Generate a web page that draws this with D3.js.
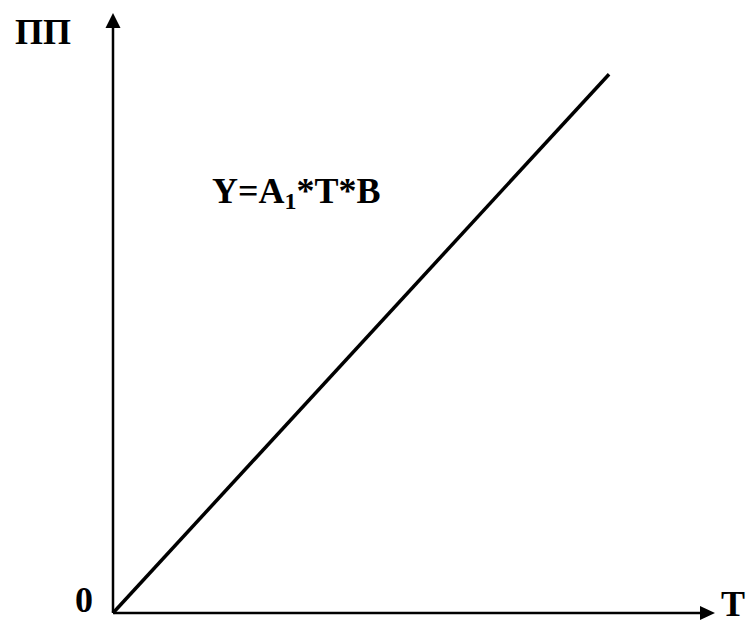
<!DOCTYPE html>
<html><head><meta charset="utf-8">
<script src="https://cdn.jsdelivr.net/npm/d3@7"></script>
<style>html,body{margin:0;padding:0;background:#fff;}</style>
</head><body>
<svg id="c" width="749" height="626"></svg>
<script>
const lineT = [0, 8.24];
const lineY = [0, 8.98];
const axisMax = [10, 10];
const labels = {y: "ПП", x: "T", origin: "0"};

const svg = d3.select("#c");
const x = d3.scaleLinear().domain([0, axisMax[0]]).range([113, 715]);
const y = d3.scaleLinear().domain([0, axisMax[1]]).range([613, 13]);
const font = "'Liberation Serif','Times New Roman',serif";

// axes
svg.append("line").attr("x1", x(0)).attr("y1", y(0)).attr("x2", x(0)).attr("y2", y(axisMax[1]) + 12)
  .attr("stroke", "#000").attr("stroke-width", 2.5);
svg.append("path").attr("d", `M${x(0)},${y(axisMax[1])} L${x(0)-7.5},${y(axisMax[1])+15} L${x(0)+7.5},${y(axisMax[1])+15} Z`).attr("fill", "#000");
svg.append("line").attr("x1", x(0)).attr("y1", y(0)).attr("x2", x(axisMax[0]) - 12).attr("y2", y(0))
  .attr("stroke", "#000").attr("stroke-width", 2.5);
svg.append("path").attr("d", `M${x(axisMax[0])},${y(0)} L${x(axisMax[0])-15},${y(0)-7} L${x(axisMax[0])-15},${y(0)+7} Z`).attr("fill", "#000");

// data line
const pts = lineT.map((t, i) => [t, lineY[i]]);
svg.append("path").datum(pts)
  .attr("d", d3.line().x(d => x(d[0])).y(d => y(d[1])))
  .attr("stroke", "#000").attr("stroke-width", 3.5).attr("fill", "none");

// labels
const txt = (s, px, py, anchor) => svg.append("text").attr("x", px).attr("y", py)
  .attr("font-family", font).attr("font-weight", "bold").attr("font-size", 36)
  .attr("text-anchor", anchor || "start").text(s);
txt(labels.y, 15, 44);
txt(labels.origin, 75, 612);
txt(labels.x, 721, 616);
const f = svg.append("text").attr("x", 212).attr("y", 203)
  .attr("font-family", font).attr("font-weight", "bold").attr("font-size", 36);
f.append("tspan").text("Y=A");
f.append("tspan").attr("font-size", 24).attr("dy", 6).text("1");
f.append("tspan").attr("dy", -6).text("*T*B");
</script>
</body></html>
